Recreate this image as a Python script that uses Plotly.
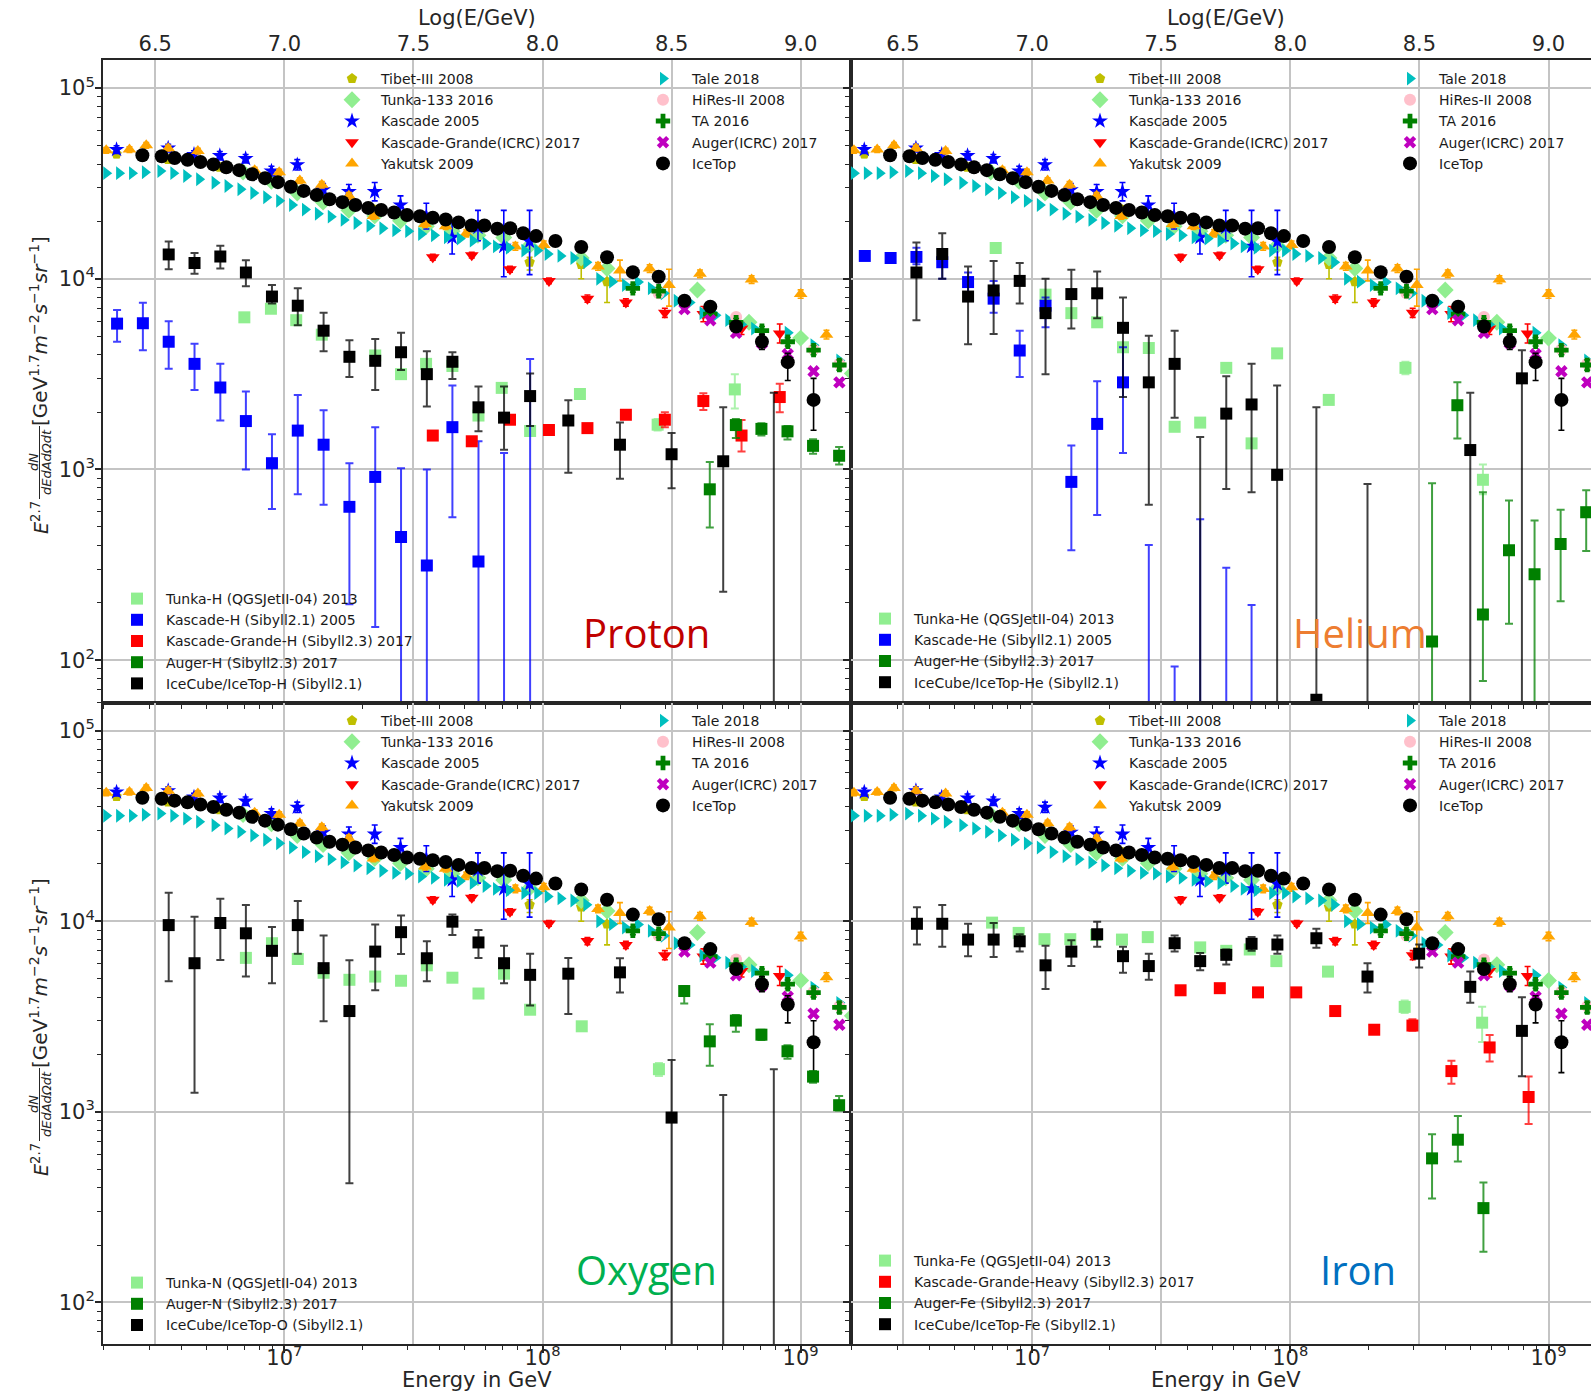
import numpy as np
import plotly.graph_objects as go

W, H = 1591, 1393
FONT = "DejaVu Sans"
INK = "#262626"
GRID = "#c4c4c4"

# ------------------------------------------------------------------
# All-particle spectra: log10(E/GeV), log10(E^2.7 dN/dE...), error bounds (log10)
# ------------------------------------------------------------------
TIBET_LGE = [6.35, 6.55, 6.75, 6.95, 7.15, 7.35, 7.55, 7.75, 7.95, 8.15, 8.25]
TIBET_LGF = [4.655, 4.625, 4.585, 4.510, 4.430, 4.362, 4.318, 4.270, 4.087, 4.075, 3.985]
TIBET_HI = [4.675, 4.640, 4.600, 4.525, 4.445, 4.380, 4.335, 4.290, 4.113, 4.135, 4.054]
TIBET_LO = [4.635, 4.610, 4.570, 4.495, 4.415, 4.345, 4.300, 4.250, 4.046, 4.000, 3.876]

TUNKA133_LGE = [6.84, 6.95, 7.05, 7.15, 7.25, 7.35, 7.45, 7.55, 7.65, 7.75, 7.85, 7.95,
                8.15, 8.25, 8.60, 8.80, 9.00, 9.20]
TUNKA133_LGF = [4.560, 4.511, 4.450, 4.402, 4.359, 4.330, 4.304, 4.276, 4.250, 4.228, 4.217, 4.174,
                4.109, 4.054, 3.941, 3.772, 3.689, 3.504]

KASCADE_LGE = [6.35, 6.55, 6.65, 6.75, 6.85, 6.95, 7.05, 7.15, 7.25, 7.35, 7.45, 7.55,
               7.65, 7.75, 7.85, 7.95]
KASCADE_LGF = [4.678, 4.685, 4.652, 4.646, 4.630, 4.565, 4.598, 4.467, 4.457, 4.457, 4.387, 4.326,
               4.217, 4.270, 4.170, 4.196]
KASCADE_HI = [4.698, 4.705, 4.672, 4.668, 4.652, 4.590, 4.625, 4.500, 4.495, 4.505, 4.435, 4.396,
              4.293, 4.359, 4.359, 4.359]
KASCADE_LO = [4.658, 4.665, 4.632, 4.624, 4.608, 4.540, 4.571, 4.434, 4.419, 4.409, 4.339, 4.261,
              4.130, 4.200, 4.011, 4.022]

KG_LGE = [7.575, 7.726, 7.874, 8.025, 8.174, 8.323, 8.474, 8.623, 8.771, 8.919]
KG_LGF = [4.113, 4.124, 4.050, 3.989, 3.896, 3.876, 3.822, 3.815, 3.739, 3.713]
KG_HI = [4.128, 4.139, 4.065, 4.004, 3.915, 3.895, 3.846, 3.855, 3.770, 3.763]
KG_LO = [4.098, 4.109, 4.035, 3.974, 3.877, 3.857, 3.798, 3.775, 3.708, 3.663]

YAKUTSK_LGE = [6.31, 6.40, 6.465, 6.55, 6.665, 6.885, 6.98, 7.06, 7.145, 7.25, 7.345, 7.545,
               7.625, 7.705, 7.895, 8.005, 8.215, 8.30, 8.415, 8.49, 8.61, 8.81, 9.00, 9.10]
YAKUTSK_LGF = [4.674, 4.678, 4.700, 4.685, 4.670, 4.570, 4.559, 4.515, 4.493, 4.435, 4.330, 4.287,
               4.276, 4.239, 4.170, 4.178, 4.065, 4.043, 4.054, 3.967, 4.026, 3.996, 3.920, 3.707]
YAKUTSK_HI = [4.689, 4.693, 4.715, 4.700, 4.685, 4.585, 4.574, 4.530, 4.510, 4.452, 4.347, 4.304,
              4.293, 4.258, 4.190, 4.198, 4.085, 4.098, 4.074, 4.050, 4.046, 4.016, 3.942, 3.730]
YAKUTSK_LO = [4.659, 4.663, 4.685, 4.670, 4.655, 4.555, 4.544, 4.500, 4.476, 4.418, 4.313, 4.270,
              4.259, 4.220, 4.150, 4.158, 4.045, 3.989, 4.034, 3.857, 4.006, 3.976, 3.898, 3.684]

TALE_LGE = [6.31, 6.36, 6.41, 6.46, 6.52, 6.57, 6.62, 6.67, 6.73, 6.78,
            6.83, 6.88, 6.93, 6.98, 7.03, 7.08, 7.13, 7.18, 7.23, 7.28,
            7.33, 7.38, 7.43, 7.48, 7.53, 7.58, 7.63, 7.68, 7.73, 7.78,
            7.82, 7.87, 7.93, 7.98, 8.02, 8.07, 8.12, 8.17, 8.22, 8.27,
            8.32, 8.37, 8.42, 8.47, 8.52, 8.57, 8.62, 8.67, 8.72, 8.77,
            8.82, 8.95, 9.05, 9.15]
TALE_LGF = [4.554, 4.554, 4.554, 4.559, 4.565, 4.554, 4.539, 4.522, 4.504, 4.487,
            4.470, 4.450, 4.428, 4.409, 4.387, 4.363, 4.341, 4.326, 4.309, 4.293,
            4.278, 4.265, 4.254, 4.250, 4.235, 4.228, 4.217, 4.211, 4.200, 4.185,
            4.170, 4.163, 4.148, 4.148, 4.130, 4.120, 4.109, 4.087, 4.000, 3.985,
            3.967, 3.983, 3.950, 3.924, 3.885, 3.876, 3.820, 3.809, 3.783, 3.761,
            3.739, 3.717, 3.652, 3.572]

HIRES_LGE = [8.45, 8.75, 9.05, 9.15]
HIRES_LGF = [3.924, 3.800, 3.630, 3.554]

TA_LGE = [8.35, 8.45, 8.65, 8.75, 8.85, 8.95, 9.05, 9.15]
TA_LGF = [3.950, 3.935, 3.815, 3.772, 3.728, 3.670, 3.626, 3.548]
TA_HI = [3.970, 3.955, 3.835, 3.792, 3.750, 3.692, 3.650, 3.575]
TA_LO = [3.930, 3.915, 3.795, 3.752, 3.706, 3.648, 3.602, 3.521]

AUGER_LGE = [8.55, 8.65, 8.75, 8.85, 8.95, 9.05, 9.15]
AUGER_LGF = [3.841, 3.783, 3.717, 3.663, 3.604, 3.515, 3.457]

ICETOP_LGE = [6.45, 6.525, 6.575, 6.625, 6.675, 6.725, 6.775, 6.825, 6.875, 6.925,
              6.975, 7.025, 7.075, 7.125, 7.175, 7.225, 7.275, 7.325, 7.375, 7.425,
              7.475, 7.525, 7.575, 7.625, 7.675, 7.725, 7.775, 7.825, 7.875, 7.925,
              7.975, 8.05, 8.15, 8.25, 8.35, 8.45, 8.55, 8.65, 8.75, 8.85,
              8.95, 9.05]
ICETOP_LGF = [4.648, 4.643, 4.633, 4.624, 4.613, 4.600, 4.585, 4.570, 4.548, 4.528,
              4.507, 4.483, 4.461, 4.439, 4.417, 4.402, 4.387, 4.372, 4.361, 4.348,
              4.335, 4.328, 4.320, 4.311, 4.296, 4.280, 4.280, 4.263, 4.265, 4.239,
              4.224, 4.198, 4.167, 4.113, 4.035, 4.011, 3.885, 3.854, 3.750, 3.670,
              3.563, 3.365]
ICETOP_HI = [None] * 38 + [3.770, 3.710, 3.609, 3.478]
ICETOP_LO = [None] * 38 + [3.730, 3.630, 3.467, 3.206]

# ------------------------------------------------------------------
# Mass-group spectra (0 as lower bound = error bar open to the bottom)
# ------------------------------------------------------------------
# Proton
TUNKA_H_LGE = [6.845, 6.948, 7.046, 7.145, 7.352, 7.452, 7.549, 7.651, 7.752, 7.842, 7.952,
               8.145, 8.446, 8.745]
TUNKA_H_LGF = [3.798, 3.843, 3.783, 3.707, 3.598, 3.500, 3.554, 3.543, 3.283, 3.428, 3.202,
               3.396, 3.235, 3.420]
TUNKA_H_HI = [None] * 12 + [3.265, 3.500]
TUNKA_H_LO = [None] * 12 + [3.205, 3.320]

KASCADE_H_LGE = [6.352, 6.452, 6.552, 6.652, 6.752, 6.851, 6.952, 7.052, 7.152, 7.252,
                 7.352, 7.452, 7.552, 7.651, 7.752, 7.851, 7.952]
KASCADE_H_LGF = [3.765, 3.767, 3.670, 3.554, 3.430, 3.254, 3.033, 3.204, 3.130, 2.804,
                 2.961, 2.646, 2.496, 3.222, 2.517, 1.500, 1.500]
KASCADE_H_HI = [3.837, 3.874, 3.778, 3.659, 3.554, 3.409, 3.185, 3.391, 3.311, 3.033,
                3.222, 3.007, 3.000, 3.441, 3.148, 3.087, 3.580]
KASCADE_H_LO = [3.670, 3.626, 3.528, 3.417, 3.257, 3.000, 2.793, 2.870, 2.815, 2.293,
                2.174, 0, 0, 2.750, 0, 0, 0]

KG_H_LGE = [7.575, 7.726, 7.874, 8.025, 8.174, 8.323, 8.474, 8.623, 8.771, 8.919]
KG_H_LGF = [3.178, 3.148, 3.261, 3.207, 3.217, 3.287, 3.261, 3.359, 3.178, 3.380]
KG_H_HI = [None] * 6 + [3.300, 3.400, 3.260, 3.450]
KG_H_LO = [None] * 6 + [3.222, 3.312, 3.095, 3.300]

AUGER_H_LGE = [8.648, 8.749, 8.848, 8.949, 9.048, 9.149]
AUGER_H_LGF = [2.896, 3.233, 3.213, 3.200, 3.124, 3.072]
AUGER_H_HI = [3.039, 3.265, 3.243, 3.228, 3.159, 3.118]
AUGER_H_LO = [2.696, 3.165, 3.178, 3.157, 3.083, 3.026]

ICETOP_H_LGE = [6.552, 6.652, 6.752, 6.851, 6.952, 7.052, 7.152, 7.252, 7.352, 7.452,
                7.552, 7.651, 7.752, 7.851, 7.952, 8.100, 8.300, 8.500, 8.700, 8.896]
ICETOP_H_LGF = [4.128, 4.083, 4.117, 4.033, 3.907, 3.859, 3.728, 3.591, 3.570, 3.615,
                3.500, 3.565, 3.326, 3.272, 3.385, 3.257, 3.130, 3.080, 3.043, 1.500]
ICETOP_H_HI = [4.196, 4.135, 4.174, 4.098, 3.967, 3.950, 3.822, 3.678, 3.685, 3.717,
               3.620, 3.615, 3.435, 3.435, 3.504, 3.363, 3.246, 3.191, 3.326, 3.402]
ICETOP_H_LO = [4.050, 4.026, 4.054, 3.961, 3.870, 3.757, 3.620, 3.485, 3.417, 3.522,
               3.330, 3.474, 3.200, 3.104, 3.228, 2.983, 2.952, 2.902, 2.359, 0]

# Helium
TUNKA_HE_LGE = [6.859, 7.052, 7.152, 7.252, 7.352, 7.452, 7.552, 7.651, 7.752, 7.850,
                7.949, 8.149, 8.446, 8.746]
TUNKA_HE_LGF = [4.161, 3.917, 3.820, 3.772, 3.641, 3.637, 3.224, 3.246, 3.533, 3.137,
                3.609, 3.365, 3.533, 2.946]
TUNKA_HE_HI = [None] * 12 + [3.565, 3.026]
TUNKA_HE_LO = [None] * 12 + [3.500, 2.870]

KASCADE_HE_LGE = [6.352, 6.452, 6.552, 6.652, 6.752, 6.851, 6.952, 7.052, 7.152, 7.252,
                  7.352, 7.452, 7.552, 7.651, 7.752, 7.850]
KASCADE_HE_LGF = [4.120, 4.109, 4.115, 4.087, 3.983, 3.896, 3.624, 3.859, 2.935, 3.239,
                  3.457, 1.500, 1.500, 1.500, 1.500, 1.500]
KASCADE_HE_HI = [None, None, 4.163, 4.152, 4.033, 3.989, 3.728, 3.902, 3.126, 3.463,
                 3.641, 2.604, 1.967, 2.739, 2.485, 2.289]
KASCADE_HE_LO = [None, None, 4.076, 4.000, 3.891, 3.822, 3.485, 3.746, 2.576, 2.761,
                 3.087, 0, 0, 0, 0, 0]

AUGER_HE_LGE = [8.549, 8.647, 8.746, 8.847, 8.946, 9.047, 9.146]
AUGER_HE_LGF = [2.098, 3.337, 2.239, 2.576, 2.450, 2.609, 2.776]
AUGER_HE_HI = [2.928, 3.457, 2.880, 2.837, 2.733, 2.789, 2.891]
AUGER_HE_LO = [0, 3.163, 1.891, 2.191, 0, 2.309, 2.572]

ICETOP_HE_LGE = [6.552, 6.652, 6.752, 6.851, 6.952, 7.052, 7.152, 7.252, 7.352, 7.452,
                 7.552, 7.651, 7.752, 7.850, 7.949, 8.101, 8.299, 8.697, 8.897]
ICETOP_HE_LGF = [4.033, 4.130, 3.907, 3.939, 3.989, 3.820, 3.920, 3.924, 3.743, 3.457,
                 3.554, 1.500, 3.293, 3.341, 2.972, 1.793, 1.500, 3.102, 3.478]
ICETOP_HE_HI = [4.191, 4.239, 4.065, 4.093, 4.083, 4.000, 4.048, 4.039, 3.902, 3.702,
                3.728, 3.170, 3.489, 3.554, 3.441, 3.326, 2.924, 3.402, 3.626]
ICETOP_HE_LO = [3.783, 4.000, 3.657, 3.711, 3.870, 3.500, 3.739, 3.793, 3.380, 2.815,
                3.272, 0, 2.898, 2.880, 0, 0, 0, 0, 0]

# Oxygen / nitrogen
TUNKA_N_LGE = [6.851, 6.952, 7.052, 7.152, 7.252, 7.352, 7.452, 7.552, 7.651, 7.752,
               7.851, 7.952, 8.152, 8.451]
TUNKA_N_LGF = [3.808, 3.885, 3.802, 3.730, 3.693, 3.710, 3.688, 3.769, 3.704, 3.621,
               3.725, 3.536, 3.449, 3.224]
TUNKA_N_HI = [None] * 13 + [3.257]
TUNKA_N_LO = [None] * 13 + [3.188]

AUGER_N_LGE = [8.549, 8.648, 8.749, 8.848, 8.949, 9.048, 9.149]
AUGER_N_LGF = [3.634, 3.370, 3.479, 3.405, 3.318, 3.185, 3.035]
AUGER_N_HI = [3.660, 3.460, 3.508, 3.431, 3.349, 3.214, 3.083]
AUGER_N_LO = [3.569, 3.242, 3.420, 3.377, 3.279, 3.153, 3.007]

ICETOP_O_LGE = [6.552, 6.652, 6.752, 6.851, 6.952, 7.052, 7.152, 7.252, 7.352, 7.452,
                7.552, 7.651, 7.752, 7.851, 7.952, 8.100, 8.300, 8.500, 8.700, 8.896]
ICETOP_O_LGF = [3.980, 3.780, 3.991, 3.937, 3.845, 3.980, 3.754, 3.529, 3.841, 3.943,
                3.806, 3.998, 3.889, 3.780, 3.719, 3.725, 3.732, 2.970, 1.500, 1.500]
ICETOP_O_HI = [4.150, 4.024, 4.118, 4.085, 3.970, 4.107, 3.926, 3.795, 3.983, 4.031,
               3.895, 4.035, 3.954, 3.871, 3.830, 3.808, 3.806, 3.272, 3.089, 3.224]
ICETOP_O_LO = [3.686, 3.100, 3.797, 3.710, 3.675, 3.830, 3.475, 2.625, 3.638, 3.828,
               3.686, 3.928, 3.808, 3.675, 3.558, 3.514, 3.627, 0, 0, 0]

# Iron
TUNKA_FE_LGE = [6.845, 6.948, 7.048, 7.148, 7.248, 7.348, 7.448, 7.651, 7.752, 7.843,
                7.946, 8.146, 8.443, 8.743]
TUNKA_FE_LGF = [3.993, 3.939, 3.906, 3.906, 3.928, 3.904, 3.917, 3.863, 3.845, 3.852,
                3.791, 3.736, 3.551, 3.468]
TUNKA_FE_HI = [None] * 12 + [3.584, 3.551]
TUNKA_FE_LO = [None] * 12 + [3.519, 3.366]

KG_HEAVY_LGE = [7.575, 7.727, 7.875, 8.023, 8.174, 8.325, 8.473, 8.624, 8.772, 8.923]
KG_HEAVY_LGF = [3.638, 3.649, 3.627, 3.627, 3.529, 3.431, 3.453, 3.214, 3.338, 3.078]
KG_HEAVY_HI = [None] * 6 + [3.486, 3.268, 3.403, 3.185]
KG_HEAVY_LO = [None] * 6 + [3.425, 3.148, 3.264, 2.937]

AUGER_FE_LGE = [8.549, 8.649, 8.748]
AUGER_FE_LGF = [2.756, 2.854, 2.495]
AUGER_FE_HI = [2.882, 2.978, 2.630]
AUGER_FE_LO = [2.545, 2.739, 2.266]

ICETOP_FE_LGE = [6.554, 6.652, 6.752, 6.851, 6.952, 7.052, 7.152, 7.252, 7.352, 7.452,
                 7.552, 7.651, 7.752, 7.850, 7.950, 8.101, 8.299, 8.499, 8.697, 8.897]
ICETOP_FE_LGF = [3.987, 3.987, 3.904, 3.904, 3.895, 3.769, 3.841, 3.932, 3.817, 3.765,
                 3.885, 3.791, 3.824, 3.882, 3.878, 3.911, 3.710, 3.830, 3.656, 3.425]
ICETOP_FE_HI = [4.074, 4.085, 3.987, 3.991, 3.932, 3.871, 3.900, 3.998, 3.867, 3.830,
                3.926, 3.834, 3.852, 3.917, 3.926, 3.961, 3.780, 3.878, 3.736, 3.601]
ICETOP_FE_LO = [3.878, 3.867, 3.817, 3.813, 3.841, 3.645, 3.765, 3.867, 3.730, 3.693,
                3.841, 3.743, 3.773, 3.845, 3.830, 3.861, 3.627, 3.758, 3.573, 3.187]

# ------------------------------------------------------------------
# Styles
# ------------------------------------------------------------------
OLIVE, LGREEN, BLUE, RED = "#bfbf00", "#90ee90", "#0000ff", "#ff0000"
ORANGE, CYAN, PINK, GREEN = "#ffa500", "#00bfbf", "#ffc0cb", "#008000"
MAGENTA, BLACK = "#bf00bf", "#000000"

ALL_PARTICLE = [
    # name, lgE, lgF, hi, lo, symbol, colour, size, legend column
    ("Tibet-III 2008", TIBET_LGE, TIBET_LGF, TIBET_HI, TIBET_LO, "pentagon", OLIVE, 11, 0),
    ("Tunka-133 2016", TUNKA133_LGE, TUNKA133_LGF, None, None, "diamond", LGREEN, 13, 0),
    ("Kascade 2005", KASCADE_LGE, KASCADE_LGF, KASCADE_HI, KASCADE_LO, "star", BLUE, 12, 0),
    ("Kascade-Grande(ICRC) 2017", KG_LGE, KG_LGF, KG_HI, KG_LO, "triangle-down", RED, 12, 0),
    ("Yakutsk 2009", YAKUTSK_LGE, YAKUTSK_LGF, YAKUTSK_HI, YAKUTSK_LO, "triangle-up", ORANGE, 12, 0),
    ("Tale 2018", TALE_LGE, TALE_LGF, None, None, "triangle-right", CYAN, 12, 1),
    ("HiRes-II 2008", HIRES_LGE, HIRES_LGF, None, None, "circle", PINK, 12, 1),
    ("TA 2016", TA_LGE, TA_LGF, TA_HI, TA_LO, "cross", GREEN, 12, 1),
    ("Auger(ICRC) 2017", AUGER_LGE, AUGER_LGF, None, None, "x", MAGENTA, 11, 1),
    ("IceTop", ICETOP_LGE, ICETOP_LGF, ICETOP_HI, ICETOP_LO, "circle", BLACK, 14, 1),
]

COMPONENTS = {
    1: [
        ("Tunka-H (QGSJetII-04) 2013", TUNKA_H_LGE, TUNKA_H_LGF, TUNKA_H_HI, TUNKA_H_LO, LGREEN),
        ("Kascade-H (Sibyll2.1) 2005", KASCADE_H_LGE, KASCADE_H_LGF, KASCADE_H_HI, KASCADE_H_LO, BLUE),
        ("Kascade-Grande-H (Sibyll2.3) 2017", KG_H_LGE, KG_H_LGF, KG_H_HI, KG_H_LO, RED),
        ("Auger-H (Sibyll2.3) 2017", AUGER_H_LGE, AUGER_H_LGF, AUGER_H_HI, AUGER_H_LO, GREEN),
        ("IceCube/IceTop-H (Sibyll2.1)", ICETOP_H_LGE, ICETOP_H_LGF, ICETOP_H_HI, ICETOP_H_LO, BLACK),
    ],
    2: [
        ("Tunka-He (QGSJetII-04) 2013", TUNKA_HE_LGE, TUNKA_HE_LGF, TUNKA_HE_HI, TUNKA_HE_LO, LGREEN),
        ("Kascade-He (Sibyll2.1) 2005", KASCADE_HE_LGE, KASCADE_HE_LGF, KASCADE_HE_HI, KASCADE_HE_LO, BLUE),
        ("Auger-He (Sibyll2.3) 2017", AUGER_HE_LGE, AUGER_HE_LGF, AUGER_HE_HI, AUGER_HE_LO, GREEN),
        ("IceCube/IceTop-He (Sibyll2.1)", ICETOP_HE_LGE, ICETOP_HE_LGF, ICETOP_HE_HI, ICETOP_HE_LO, BLACK),
    ],
    3: [
        ("Tunka-N (QGSJetII-04) 2013", TUNKA_N_LGE, TUNKA_N_LGF, TUNKA_N_HI, TUNKA_N_LO, LGREEN),
        ("Auger-N (Sibyll2.3) 2017", AUGER_N_LGE, AUGER_N_LGF, AUGER_N_HI, AUGER_N_LO, GREEN),
        ("IceCube/IceTop-O (Sibyll2.1)", ICETOP_O_LGE, ICETOP_O_LGF, ICETOP_O_HI, ICETOP_O_LO, BLACK),
    ],
    4: [
        ("Tunka-Fe (QGSJetII-04) 2013", TUNKA_FE_LGE, TUNKA_FE_LGF, TUNKA_FE_HI, TUNKA_FE_LO, LGREEN),
        ("Kascade-Grande-Heavy (Sibyll2.3) 2017", KG_HEAVY_LGE, KG_HEAVY_LGF, KG_HEAVY_HI, KG_HEAVY_LO, RED),
        ("Auger-Fe (Sibyll2.3) 2017", AUGER_FE_LGE, AUGER_FE_LGF, AUGER_FE_HI, AUGER_FE_LO, GREEN),
        ("IceCube/IceTop-Fe (Sibyll2.1)", ICETOP_FE_LGE, ICETOP_FE_LGF, ICETOP_FE_HI, ICETOP_FE_LO, BLACK),
    ],
}

PANEL_LABELS = {1: ("Proton", "#c00000"), 2: ("Helium", "#ed7d31"),
                3: ("Oxygen", "#00b050"), 4: ("Iron", "#0070c0")}

# panel geometry in pixels (left, right), (top, bottom); axis ranges in log10
PANELS = {
    1: dict(px=(103, 851), py=(60.3, 702.5), xr=(6.2975, 9.195), yr=(1.778, 5.146)),
    2: dict(px=(851, 1591), py=(60.3, 702.5), xr=(6.2986, 9.1646), yr=(1.778, 5.146)),
    3: dict(px=(103, 851), py=(702.5, 1344), xr=(6.2975, 9.195), yr=(1.782, 5.148)),
    4: dict(px=(851, 1591), py=(702.5, 1344), xr=(6.2986, 9.1646), yr=(1.782, 5.148)),
}


def pow10(vals):
    return [None if v is None else 10.0 ** v for v in vals]


def error_bars(lgf, hi, lo, colour, width=4, thickness=1.8):
    if hi is None:
        return None
    y = pow10(lgf)
    up = [None if h is None else 10.0 ** h - v for h, v in zip(hi, y)]
    dn = [None if l is None else v - 10.0 ** l for l, v in zip(lo, y)]
    return dict(type="data", symmetric=False, array=up, arrayminus=dn,
                color=colour, thickness=thickness, width=width)


def rgba(hex_colour, alpha):
    h = hex_colour.lstrip("#")
    r, g, b = int(h[0:2], 16), int(h[2:4], 16), int(h[4:6], 16)
    return f"rgba({r},{g},{b},{alpha})"


def ax_ref(kind, n):
    return kind if n == 1 else f"{kind}{n}"


def legend_id(n):
    return "legend" if n == 1 else f"legend{n}"


fig = go.Figure()

for p in range(1, 5):
    xr, yr = ax_ref("x", p), ax_ref("y", p)
    leg_upper = [legend_id(3 * (p - 1) + 1), legend_id(3 * (p - 1) + 2)]
    leg_lower = legend_id(3 * (p - 1) + 3)

    for name, lge, lgf, hi, lo, sym, col, size, column in ALL_PARTICLE:
        fig.add_trace(go.Scatter(
            x=pow10(lge), y=pow10(lgf), mode="markers", name=name,
            marker=dict(symbol=sym, color=col, size=size, line=dict(width=0)),
            error_y=error_bars(lgf, hi, lo, col, width=3, thickness=1.6),
            xaxis=xr, yaxis=yr, legend=leg_upper[column], hoverinfo="skip"))

    for name, lge, lgf, hi, lo, col in COMPONENTS[p]:
        fig.add_trace(go.Scatter(
            x=pow10(lge), y=pow10(lgf), mode="markers", name=name,
            marker=dict(symbol="square", color=col, size=12, line=dict(width=0)),
            error_y=error_bars(lgf, hi, lo, rgba(col, 0.75), width=4, thickness=2),
            xaxis=xr, yaxis=yr, legend=leg_lower, hoverinfo="skip"))

    # keeps the top log10(E) axis of this panel alive
    fig.add_trace(go.Scatter(x=[7.0], y=[1e3], mode="markers", marker=dict(opacity=0),
                             xaxis=ax_ref("x", p + 4), yaxis=yr, showlegend=False,
                             hoverinfo="skip"))

minor_x = [k * 10.0 ** d for d in range(6, 10) for k in range(2, 10)]
minor_y = [k * 10.0 ** d for d in range(1, 6) for k in range(2, 10)]
tick_font = dict(family=FONT, size=21, color=INK)

layout = dict(
    width=W, height=H, autosize=False, margin=dict(l=0, r=0, t=0, b=0),
    paper_bgcolor="white", plot_bgcolor="white", hovermode=False,
    font=dict(family=FONT, color=INK),
)

for p, g in PANELS.items():
    xdom = [g["px"][0] / W, g["px"][1] / W]
    ydom = [1 - g["py"][1] / H, 1 - g["py"][0] / H]
    bottom_row = p in (3, 4)
    left_col = p in (1, 3)

    layout[ax_ref("xaxis", p)] = dict(
        type="log", domain=xdom, range=list(g["xr"]), anchor=ax_ref("y", p),
        showgrid=False, zeroline=False,
        tickvals=[1e7, 1e8, 1e9], ticktext=["10<sup>7</sup>", "10<sup>8</sup>", "10<sup>9</sup>"],
        showticklabels=bottom_row, tickfont=tick_font, ticklabelstandoff=-13,
        ticks="outside", ticklen=7, tickwidth=1.5, tickcolor=INK,
        minor=dict(tickvals=minor_x, ticks="outside", ticklen=4, tickwidth=1, tickcolor=INK,
                   showgrid=False),
        showline=True, linecolor=INK, linewidth=2,
    )
    layout[ax_ref("xaxis", p + 4)] = dict(
        type="linear", overlaying=ax_ref("x", p), side="top", anchor=ax_ref("y", p),
        range=list(g["xr"]),
        tickvals=[6.5, 7.0, 7.5, 8.0, 8.5, 9.0],
        ticktext=["6.5", "7.0", "7.5", "8.0", "8.5", "9.0"],
        showticklabels=not bottom_row, tickfont=tick_font,
        ticks="", ticklabelstandoff=-1,
        showgrid=True, gridcolor=GRID, gridwidth=1.6, zeroline=False,
        showline=True, linecolor=INK, linewidth=2,
    )
    layout[ax_ref("yaxis", p)] = dict(
        type="log", domain=ydom, range=list(g["yr"]), anchor=ax_ref("x", p),
        tickvals=[1e2, 1e3, 1e4, 1e5],
        ticktext=["10<sup>2</sup>", "10<sup>3</sup>", "10<sup>4</sup>", "10<sup>5</sup>"],
        showticklabels=left_col, tickfont=tick_font, ticklabelstandoff=-4,
        ticks="outside", ticklen=6, tickwidth=1.5, tickcolor=INK,
        minor=dict(tickvals=minor_y, ticks="outside", ticklen=4, tickwidth=1, tickcolor=INK,
                   showgrid=False),
        showgrid=True, gridcolor=GRID, gridwidth=1.6, zeroline=False,
        showline=True, linecolor=INK, linewidth=2, mirror=left_col,
    )

# legends: (first marker centre x, first row centre y) in pixels
LEGEND_ANCHORS = {
    1: [(350, 78), (661, 78), (135, 598)],
    2: [(1098, 78), (1408, 78), (883, 618)],
    3: [(350, 720), (661, 720), (135, 1282)],
    4: [(1098, 720), (1408, 720), (883, 1260)],
}
for p, anchors in LEGEND_ANCHORS.items():
    for k, (mx, my) in enumerate(anchors):
        layout[legend_id(3 * (p - 1) + k + 1)] = dict(
            x=(mx - 27) / W, y=1 - (my - 15) / H, xanchor="left", yanchor="top",
            bgcolor="rgba(0,0,0,0)", borderwidth=0, tracegroupgap=0, itemwidth=48,
            font=dict(family=FONT, size=14, color="#1a1a1a"),
        )


def label(text, px, py, size, colour=INK, family=FONT, angle=0):
    return dict(text=text, x=px / W, y=1 - py / H, xref="paper", yref="paper",
                xanchor="center", yanchor="middle", showarrow=False, textangle=angle,
                font=dict(family=family, size=size, color=colour))


annotations = []
for cx in (477, 1226):
    annotations.append(label("Log(E/GeV)", cx, 18, 21))
    annotations.append(label("Energy in GeV", cx, 1380, 21))

shapes = []
for yc in (381, 1023):
    annotations.append(label("<i>E</i><sup>2.7</sup>", 40, yc + 137, 19, angle=-90))
    annotations.append(label("<i>dN</i>", 33, yc + 81, 13, angle=-90))
    annotations.append(label("<i>dEdAd\u03a9dt</i>", 46, yc + 81, 13, angle=-90))
    shapes.append(dict(type="line", xref="paper", yref="paper", x0=39.5 / W, x1=39.5 / W,
                       y0=1 - (yc + 45) / H, y1=1 - (yc + 118) / H,
                       line=dict(color=INK, width=1)))
    annotations.append(label(
        "[GeV<sup>1.7</sup><i>m</i><sup>\u22122</sup><i>s</i><sup>\u22121</sup>"
        "<i>sr</i><sup>\u22121</sup>]", 39, yc - 50, 20, angle=-90))

LABEL_POS = {1: (646, 633), 2: (1360, 633), 3: (646, 1269), 4: (1358, 1269)}
for p, (txt, col) in PANEL_LABELS.items():
    px, py = LABEL_POS[p]
    annotations.append(label(txt, px, py, 40, colour=col, family="Open Sans"))

layout["annotations"] = annotations
layout["shapes"] = shapes
fig.update_layout(**layout)

fig.write_html("out.html")
